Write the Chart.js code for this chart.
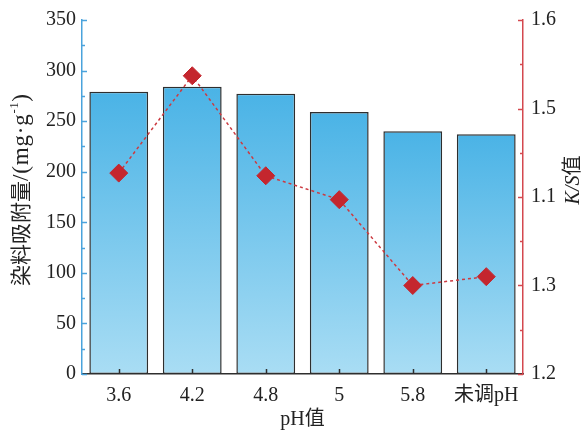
<!DOCTYPE html>
<html>
<head>
<meta charset="utf-8">
<script src="https://cdn.jsdelivr.net/npm/chart.js@4/dist/chart.umd.min.js"></script>
<style>
  html, body { margin: 0; padding: 0; background: #ffffff; }
  #wrap { width: 585px; height: 430px; }
</style>
</head>
<body>
<div id="wrap"><canvas id="c" width="585" height="430"></canvas></div>
<script>
// pH conditions along the x axis
const categories = ['3.6', '4.2', '4.8', '5', '5.8', '未调pH'];
// dye adsorption capacity, mg/g (bars, left axis)
const adsorption = [279, 284, 277, 259, 240, 237];
// K/S value (dashed line, right axis)
const ksValues = [1.427, 1.537, 1.424, 1.397, 1.300, 1.310];
// axis ticks
const leftTickValues = [0, 50, 100, 150, 200, 250, 300, 350];
const rightTickValues = [1.2, 1.3, 1.4, 1.5, 1.6];
const rightTickLabels = ['1.2', '1.3', '1.1', '1.5', '1.6'];

const SERIF = "'Liberation Serif', 'Times New Roman', 'Noto Sans CJK SC', serif";
const BLUE_AXIS = '#4aa3dc';
const RED_AXIS = '#d4484f';
const DARK = '#2e2e2e';

// vertical gradient for each bar, from its own top down to the baseline
function barFill(context) {
  const chart = context.chart;
  const area = chart.chartArea;
  if (!area || context.type !== 'data') return '#6cc3ec';
  const y = chart.scales.yL;
  const top = y.getPixelForValue(context.raw);
  const base = y.getPixelForValue(0);
  const g = chart.ctx.createLinearGradient(0, top, 0, base);
  g.addColorStop(0, '#4ab3e6');
  g.addColorStop(1, '#a9ddf4');
  return g;
}

// draws a run of text pieces one after another, centred on x = 0
function drawRun(ctx, pieces) {
  let total = 0;
  pieces.forEach(p => {
    ctx.font = p.font;
    ctx.letterSpacing = (p.spacing || 0) + 'px';
    p.w = ctx.measureText(p.text).width;
    total += p.w;
  });
  let x = -total / 2;
  ctx.textAlign = 'left';
  pieces.forEach(p => {
    ctx.font = p.font;
    ctx.letterSpacing = (p.spacing || 0) + 'px';
    ctx.fillText(p.text, x, p.dy || 0);
    x += p.w;
  });
  ctx.letterSpacing = '0px';
}

// inward tick marks and the axis titles
const axisDecor = {
  id: 'axisDecor',
  afterDraw(chart) {
    const { ctx, chartArea: a, scales } = chart;
    ctx.save();
    ctx.lineWidth = 1.5;

    // left axis: major every 50, minor every 25
    ctx.strokeStyle = BLUE_AXIS;
    for (let v = 0; v <= 350; v += 25) {
      const py = Math.round(scales.yL.getPixelForValue(v)) + 0.5;
      const len = v % 50 === 0 ? 5 : 3;
      ctx.beginPath();
      ctx.moveTo(a.left, py);
      ctx.lineTo(a.left + len, py);
      ctx.stroke();
    }

    // right axis: major every 0.1, minor every 0.05
    ctx.strokeStyle = RED_AXIS;
    for (let i = 0; i <= 8; i++) {
      const v = 1.2 + i * 0.05;
      const py = Math.round(scales.yR.getPixelForValue(v)) + 0.5;
      const len = i % 2 === 0 ? 5 : 3;
      ctx.beginPath();
      ctx.moveTo(a.right, py);
      ctx.lineTo(a.right - len, py);
      ctx.stroke();
    }

    // bottom axis: one tick at each category centre
    ctx.strokeStyle = DARK;
    categories.forEach((c, i) => {
      const px = Math.round(scales.x.getPixelForValue(i)) + 0.5;
      ctx.beginPath();
      ctx.moveTo(px, a.bottom);
      ctx.lineTo(px, a.bottom - 5);
      ctx.stroke();
    });

    ctx.fillStyle = '#222222';
    ctx.textBaseline = 'middle';

    // x axis title
    ctx.font = "20px " + SERIF;
    ctx.textAlign = 'center';
    ctx.fillText('pH值', (a.left + a.right) / 2, 420);

    // left axis title, rotated, with a superscript -1
    ctx.save();
    ctx.translate(22, 190);
    ctx.rotate(-Math.PI / 2);
    drawRun(ctx, [
      { text: '染料吸附量', font: "21px " + SERIF },
      { text: '/(mg·g', font: "23px " + SERIF, spacing: 0.8 },
      { text: '-1', font: "13px " + SERIF, dy: -7, spacing: 0.5 },
      { text: ')', font: "23px " + SERIF }
    ]);
    ctx.restore();

    // right axis title: italic K/S followed by 值
    ctx.save();
    ctx.translate(574, 180);
    ctx.rotate(-Math.PI / 2);
    drawRun(ctx, [
      { text: 'K/S', font: "italic 20px " + SERIF },
      { text: '值', font: "20px " + SERIF }
    ]);
    ctx.restore();

    ctx.restore();
  }
};

const tickFont = { family: SERIF, size: 20 };

new Chart(document.getElementById('c').getContext('2d'), {
  data: {
    labels: categories,
    datasets: [
      {
        type: 'line',
        data: ksValues,
        yAxisID: 'yR',
        borderColor: '#cc3a40',
        borderWidth: 1.5,
        borderDash: [3, 3],
        tension: 0,
        fill: false,
        pointStyle: 'rectRot',
        pointRadius: 9,
        pointBackgroundColor: '#c4262e',
        pointBorderColor: '#c4262e',
        pointBorderWidth: 1,
        order: 0
      },
      {
        type: 'bar',
        data: adsorption,
        yAxisID: 'yL',
        backgroundColor: barFill,
        borderColor: DARK,
        borderWidth: 1.5,
        borderSkipped: false,
        barPercentage: 0.8,
        categoryPercentage: 1,
        order: 1
      }
    ]
  },
  options: {
    responsive: false,
    animation: false,
    devicePixelRatio: 1,
    layout: { padding: { top: 17, left: 0, right: 0, bottom: 0 } },
    plugins: { legend: { display: false }, tooltip: { enabled: false } },
    scales: {
      x: {
        grid: { display: false, drawTicks: false },
        border: { color: DARK, width: 1.5 },
        ticks: { font: tickFont, color: '#222222', padding: 10, maxRotation: 0 },
        afterFit(s) { s.height = 56; }
      },
      yL: {
        position: 'left',
        min: 0,
        max: 350,
        afterBuildTicks(s) { s.ticks = leftTickValues.map(v => ({ value: v })); },
        grid: { display: false, drawTicks: false },
        border: { color: BLUE_AXIS, width: 1.5 },
        ticks: { font: tickFont, color: '#222222', padding: 6 },
        afterFit(s) { s.width = 82; }
      },
      yR: {
        position: 'right',
        min: 1.2,
        max: 1.6,
        afterBuildTicks(s) { s.ticks = rightTickValues.map(v => ({ value: v })); },
        grid: { display: false, drawTicks: false },
        border: { color: RED_AXIS, width: 1.5 },
        ticks: {
          font: tickFont,
          color: '#222222',
          padding: 8,
          callback(value, index) { return rightTickLabels[index]; }
        },
        afterFit(s) { s.width = 62; }
      }
    }
  },
  plugins: [axisDecor]
});
</script>
</body>
</html>
